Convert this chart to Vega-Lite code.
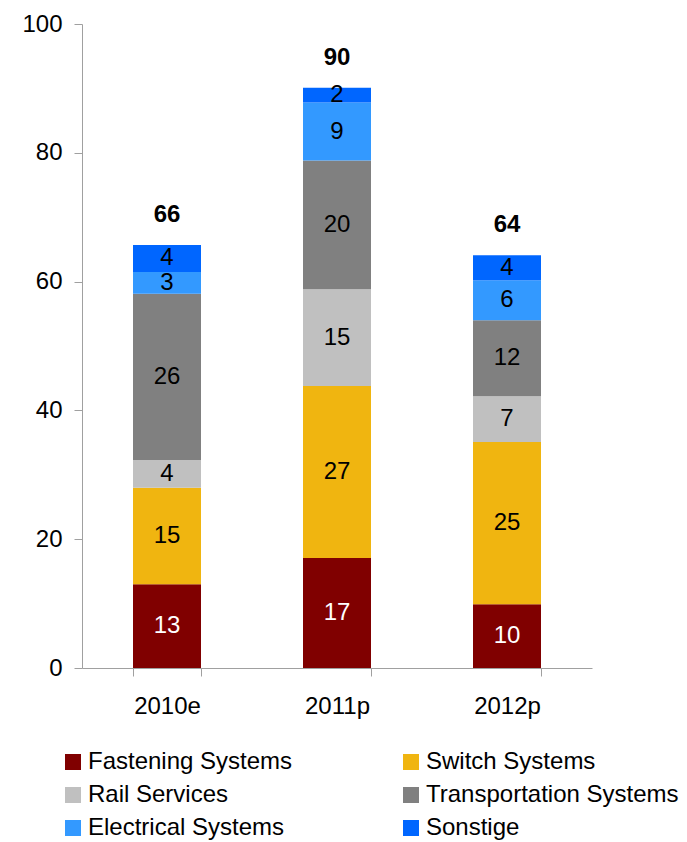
{
  "$schema": "https://vega.github.io/schema/vega-lite/v6.json",
  "width": 510,
  "height": 644,
  "autosize": {"type": "none"},
  "padding": {"left": 82, "top": 24, "right": 95, "bottom": 174},
  "config": {
    "view": {"stroke": null},
    "font": "Liberation Sans",
    "axis": {
      "domainColor": "#a0a0a0",
      "tickColor": "#a0a0a0",
      "labelColor": "#000000",
      "labelFontSize": 24,
      "labelFont": "Liberation Sans",
      "tickSize": 8,
      "grid": false,
      "title": null
    }
  },
  "data": {
    "values": [
      {"year": "2010e", "segment": "Fastening Systems", "order": 1, "value": 13.0},
      {"year": "2010e", "segment": "Switch Systems", "order": 2, "value": 15.0},
      {"year": "2010e", "segment": "Rail Services", "order": 3, "value": 4.3},
      {"year": "2010e", "segment": "Transportation Systems", "order": 4, "value": 25.8},
      {"year": "2010e", "segment": "Electrical Systems", "order": 5, "value": 3.4},
      {"year": "2010e", "segment": "Sonstige", "order": 6, "value": 4.2},
      {"year": "2011p", "segment": "Fastening Systems", "order": 1, "value": 17.1},
      {"year": "2011p", "segment": "Switch Systems", "order": 2, "value": 26.7},
      {"year": "2011p", "segment": "Rail Services", "order": 3, "value": 15.0},
      {"year": "2011p", "segment": "Transportation Systems", "order": 4, "value": 20.0},
      {"year": "2011p", "segment": "Electrical Systems", "order": 5, "value": 9.0},
      {"year": "2011p", "segment": "Sonstige", "order": 6, "value": 2.3},
      {"year": "2012p", "segment": "Fastening Systems", "order": 1, "value": 9.9},
      {"year": "2012p", "segment": "Switch Systems", "order": 2, "value": 25.2},
      {"year": "2012p", "segment": "Rail Services", "order": 3, "value": 7.1},
      {"year": "2012p", "segment": "Transportation Systems", "order": 4, "value": 11.8},
      {"year": "2012p", "segment": "Electrical Systems", "order": 5, "value": 6.2},
      {"year": "2012p", "segment": "Sonstige", "order": 6, "value": 3.9}
    ]
  },
  "encoding": {
    "x": {
      "field": "year",
      "type": "nominal",
      "sort": null,
      "scale": {"paddingInner": 0.6, "paddingOuter": 0.3},
      "axis": {"labelAngle": 0, "tickBand": "extent", "labelPadding": 18}
    }
  },
  "layer": [
    {
      "mark": {"type": "bar"},
      "encoding": {
        "y": {
          "field": "value",
          "type": "quantitative",
          "stack": "zero",
          "scale": {"domain": [0, 100]},
          "axis": {"values": [0, 20, 40, 60, 80, 100], "labelPadding": 12}
        },
        "color": {
          "field": "segment",
          "type": "nominal",
          "scale": {
            "domain": ["Fastening Systems", "Rail Services", "Electrical Systems", "Switch Systems", "Transportation Systems", "Sonstige"],
            "range": ["#800000", "#C0C0C0", "#3399FF", "#F0B510", "#808080", "#0066FF"]
          },
          "legend": {
            "orient": "none",
            "legendX": -21,
            "legendY": 726,
            "columns": 2,
            "title": null,
            "symbolType": "square",
            "symbolSize": 256,
            "symbolStrokeWidth": 0,
            "labelFontSize": 24,
            "labelFont": "Liberation Sans",
            "labelColor": "#000000",
            "labelOffset": 3,
            "rowPadding": 9,
            "columnPadding": 106,
            "labelLimit": 400
          }
        },
        "order": {"field": "order", "type": "quantitative"}
      }
    },
    {
      "transform": [
        {"stack": "value", "groupby": ["year"], "sort": [{"field": "order", "order": "ascending"}], "as": ["y0", "y1"]},
        {"calculate": "(datum.y0 + datum.y1) / 2", "as": "mid"}
      ],
      "mark": {"type": "text", "fontSize": 24, "baseline": "middle", "align": "center"},
      "encoding": {
        "y": {"field": "mid", "type": "quantitative"},
        "text": {"field": "value", "type": "quantitative", "format": ".0f"},
        "color": {
          "condition": {"test": "datum.segment === 'Fastening Systems'", "value": "#ffffff"},
          "value": "#000000"
        }
      }
    },
    {
      "mark": {"type": "text", "fontSize": 24, "fontWeight": "bold", "baseline": "alphabetic", "align": "center", "dy": -23, "color": "#000000"},
      "encoding": {
        "y": {"aggregate": "sum", "field": "value", "type": "quantitative"},
        "text": {"aggregate": "sum", "field": "value", "type": "quantitative", "format": ".0f"}
      }
    }
  ]
}
